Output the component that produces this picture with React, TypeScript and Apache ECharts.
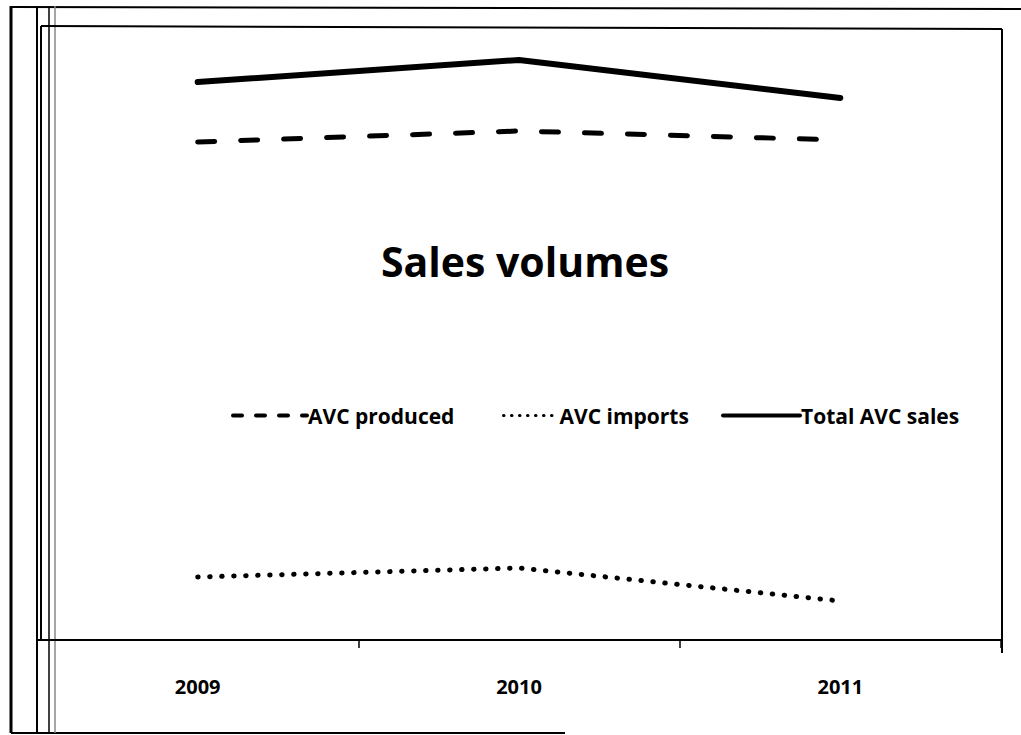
import React, { useEffect, useRef } from "react";
import * as echarts from "echarts";

const years = ["2009", "2010", "2011"];
const avcProduced = [498, 509, 500];
const avcImports = [63, 72, 39];
const totalSales = [558, 580, 542];
const seriesNames = ["AVC produced", "AVC imports", "Total AVC sales"];

const FONT = "'Open Sans', Lato, sans-serif";

export default function App() {
  const ref = useRef<HTMLDivElement>(null);
  useEffect(() => {
    document.body.style.margin = "0";
    const chart = echarts.init(ref.current!, null, { renderer: "svg" });
    const legendText = { fontFamily: FONT, fontWeight: "bold" as const, fontSize: 21, color: "#000", padding: [0, 0, 0, -4] };
    const hiddenSymbol = { color: "transparent", borderColor: "transparent", borderWidth: 0, opacity: 0 };
    const frameLine = (x1: number, y1: number, x2: number, y2: number, w: number, c = "#000") => ({
      type: "line",
      shape: { x1, y1, x2, y2 },
      style: { stroke: c, lineWidth: w },
      silent: true,
    });
    chart.setOption({
      animation: false,
      backgroundColor: "#fff",
      title: {
        text: "Sales volumes",
        left: 520,
        top: 235,
        textAlign: "center",
        textStyle: { fontFamily: FONT, fontWeight: "bold", fontSize: 41, color: "#000" },
      },
      grid: { left: 37, top: 25, width: 964, height: 615 },
      legend: [
        {
          left: 226,
          top: 400,
          itemWidth: 74,
          itemHeight: 16,
          textStyle: legendText,
          itemStyle: hiddenSymbol,
          data: [{ name: seriesNames[0], itemStyle: hiddenSymbol, lineStyle: { width: 4, type: [9, 14], cap: "round", color: "#000" } }],
        },
        {
          left: 497,
          top: 400,
          itemWidth: 55,
          itemHeight: 16,
          textStyle: legendText,
          itemStyle: hiddenSymbol,
          data: [{ name: seriesNames[1], itemStyle: hiddenSymbol, lineStyle: { width: 3, type: [0.5, 7.5], cap: "round", color: "#000" } }],
        },
        {
          left: 716,
          top: 400,
          itemWidth: 77,
          itemHeight: 16,
          textStyle: legendText,
          itemStyle: hiddenSymbol,
          data: [{ name: seriesNames[2], itemStyle: hiddenSymbol, lineStyle: { width: 4, type: "solid", color: "#000" } }],
        },
      ],
      xAxis: {
        type: "category",
        data: years,
        boundaryGap: true,
        axisLine: { lineStyle: { color: "#000", width: 2 } },
        axisTick: { show: true, length: 8, lineStyle: { color: "#000", width: 1.5 } },
        axisLabel: { fontFamily: FONT, fontWeight: "bold", fontSize: 20, color: "#000", margin: 36 },
      },
      yAxis: { type: "value", min: 0, max: 615, show: false },
      series: [
        {
          name: seriesNames[0],
          type: "line",
          data: avcProduced,
          symbol: "none",
          lineStyle: { color: "#000", width: 5, type: [17, 26], cap: "round" },
          itemStyle: { color: "#000" },
        },
        {
          name: seriesNames[1],
          type: "line",
          data: avcImports,
          symbol: "none",
          lineStyle: { color: "#000", width: 5, type: [0.5, 11.5], cap: "round" },
          itemStyle: { color: "#000" },
        },
        {
          name: seriesNames[2],
          type: "line",
          data: totalSales,
          symbol: "none",
          lineStyle: { color: "#000", width: 6, cap: "round" },
          itemStyle: { color: "#000" },
        },
      ],
      graphic: [
        frameLine(11, 6, 11, 733, 3),
        frameLine(11, 7, 1021, 9, 2),
        frameLine(11, 733, 565, 733, 2),
        frameLine(37, 6, 37, 733, 2),
        frameLine(49, 6, 49, 733, 1.5),
        frameLine(55, 6, 55, 733, 1.5, "#888"),
        frameLine(41, 26, 1002, 29, 2),
        frameLine(41, 26, 41, 640, 2),
        frameLine(1002, 29, 1002, 653, 2),
      ],
    });
    return () => chart.dispose();
  }, []);
  return (
    <div
      ref={ref}
      style={{ position: "fixed", left: 0, top: 0, width: 1021, height: 735 }}
    />
  );
}
